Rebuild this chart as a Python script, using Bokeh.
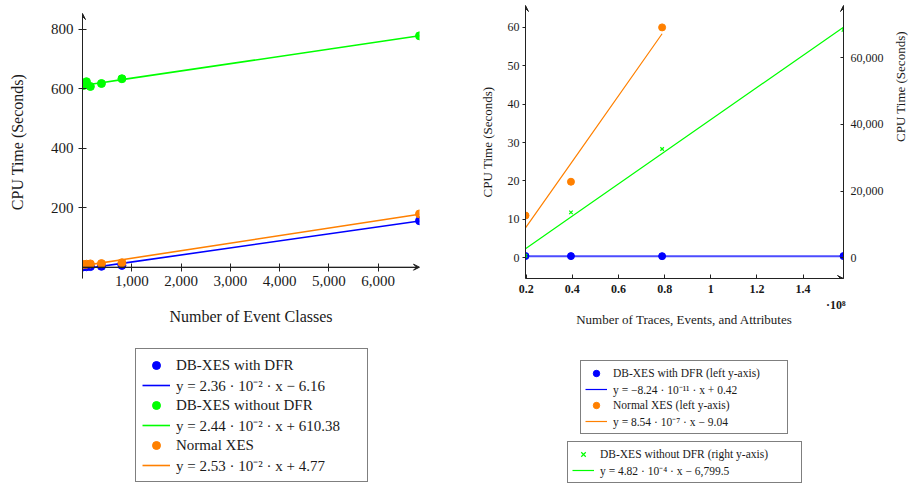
import numpy as np
from bokeh.plotting import figure
from bokeh.models import (Range1d, LinearAxis, FixedTicker, NumeralTickFormatter,
                          CustomJSTickFormatter, Legend, LegendItem, Arrow, VeeHead, Title)
from bokeh.layouts import row, column
from bokeh.embed import file_html
from bokeh.resources import INLINE

FONT = "Liberation Serif"
BLUE = "#0000ff"
GREEN = "#00ff00"
ORANGE = "#ff8000"
AX = "#222222"
TXT = "#1a1a1a"

# ---------------- left chart data ----------------
event_classes = [15, 80, 160, 385, 800, 6840]
with_dfr_left = [1.0, 1.5, 2.0, 3.0, 6.0, 156.0]
without_dfr_left = [610, 623, 607, 617, 633, 777]
normal_xes_left = [9, 10, 11, 12, 15, 179]
fit_left_slope = [2.36e-2, 2.44e-2, 2.53e-2]
fit_left_icept = [-6.16, 610.38, 4.77]
left_names = ["DB-XES with DFR", "DB-XES without DFR", "Normal XES"]
left_eqs = ["y = 2.36 · 10⁻² · x − 6.16",
            "y = 2.44 · 10⁻² · x + 610.38",
            "y = 2.53 · 10⁻² · x + 4.77"]
left_yticks = [200, 400, 600, 800]
left_xticks = [1000, 2000, 3000, 4000, 5000, 6000]

# ---------------- right chart data ----------------
sizes = [1.97e7, 3.94e7, 7.89e7, 1.575e8]
with_dfr_right = [0.45, 0.43, 0.42, 0.44]
normal_xes_right = [11.0, 19.8, 60.0]
without_dfr_right = [600, 13600, 32600, 68300]
fit_right_slope = [-8.24e-11, 8.54e-7, 4.82e-4]
fit_right_icept = [0.42, -9.04, -6799.5]
right_names = ["DB-XES with DFR (left y-axis)", "Normal XES (left y-axis)",
               "DB-XES without DFR (right y-axis)"]
right_eqs = ["y = −8.24 · 10⁻¹¹ · x + 0.42",
             "y = 8.54 · 10⁻⁷ · x − 9.04",
             "y = 4.82 · 10⁻⁴ · x − 6,799.5"]
right_left_yticks = [0, 10, 20, 30, 40, 50, 60]
right_right_yticks = [0, 20000, 40000, 60000]
right_xticks = [2e7, 4e7, 6e7, 8e7, 1e8, 1.2e8, 1.4e8]


def style_axis(ax, size):
    ax.axis_line_color = AX
    ax.major_tick_line_color = AX
    ax.minor_tick_line_color = None
    ax.major_label_text_font = FONT
    ax.major_label_text_font_size = size
    ax.major_label_text_color = TXT
    ax.axis_label_text_font = FONT
    ax.axis_label_text_font_style = "normal"
    ax.axis_label_text_color = TXT


def label_axis(text, size, standoff, ticks=None, tick_size="12px", tick_standoff=0, formatter=None):
    a = LinearAxis(ticker=FixedTicker(ticks=ticks or []), axis_label=text)
    if formatter is not None:
        a.formatter = formatter
    a.axis_line_color = None
    a.major_tick_line_color = None
    a.minor_tick_line_color = None
    a.major_tick_in = 0
    a.major_tick_out = 0
    a.minor_tick_in = 0
    a.minor_tick_out = 0
    a.major_label_standoff = tick_standoff
    a.major_label_text_font = FONT
    a.major_label_text_font_size = tick_size
    a.major_label_text_color = TXT
    a.axis_label_text_font = FONT
    a.axis_label_text_font_style = "normal"
    a.axis_label_text_color = TXT
    a.axis_label_text_font_size = size
    a.axis_label_standoff = standoff
    return a


# both plots in the row share the same top/bottom borders
TOP_B, BOT_B = 5, 57

# ================= left figure =================
L_X0, L_X1 = 0, 6840
L_AXIS_LO, L_AXIS_HI = -38, 852        # extent of the drawn y axis line
L_Y0, L_Y1 = -38, 879                  # plot range
p1 = figure(width=460, height=335, x_range=Range1d(L_X0, L_X1), y_range=Range1d(L_Y0, L_Y1),
            output_backend="svg", toolbar_location=None,
            min_border_left=82, min_border_right=41, min_border_top=TOP_B, min_border_bottom=BOT_B)
p1.outline_line_color = None
p1.grid.visible = False
p1.xaxis.fixed_location = 0
for ax in p1.xaxis + p1.yaxis:
    style_axis(ax, "15px")
    ax.major_tick_in = 4
    ax.major_tick_out = 4
p1.xaxis.ticker = FixedTicker(ticks=left_xticks)
p1.xaxis.formatter = CustomJSTickFormatter(code="return '';")
p1.yaxis.ticker = FixedTicker(ticks=left_yticks)
p1.yaxis.bounds = (L_AXIS_LO, L_AXIS_HI)
p1.yaxis.formatter = NumeralTickFormatter(format="0")
p1.yaxis.axis_label = "CPU Time (Seconds)"
p1.yaxis.axis_label_text_font_size = "16px"
p1.yaxis.major_label_standoff = 5
p1.yaxis.axis_label_standoff = 22
p1.add_layout(label_axis("Number of Event Classes", "16px", 19, ticks=left_xticks,
                         tick_size="15px", tick_standoff=-3,
                         formatter=NumeralTickFormatter(format="0,0")), "below")

xl = np.array(event_classes, dtype=float)
for ys, k, b, col in [(with_dfr_left, fit_left_slope[0], fit_left_icept[0], BLUE),
                      (without_dfr_left, fit_left_slope[1], fit_left_icept[1], GREEN),
                      (normal_xes_left, fit_left_slope[2], fit_left_icept[2], ORANGE)]:
    p1.line(xl, k * xl + b, line_color=col, line_width=1.6)
    p1.scatter(xl, ys, size=8, fill_color=col, line_color=col)

p1.add_layout(Arrow(end=VeeHead(size=6, line_color=AX, fill_color=AX, line_width=1),
                    x_start=L_X0, y_start=0, x_end=L_X1, y_end=0, line_color=AX, line_width=1))
p1.add_layout(Arrow(end=VeeHead(size=6, line_color=AX, fill_color=AX, line_width=1),
                    x_start=L_X0, y_start=L_AXIS_LO, x_end=L_X0, y_end=L_AXIS_HI,
                    line_color=AX, line_width=1))

# ================= right figure =================
R_X0, R_X1 = sizes[0], sizes[-1]
R_Y0, R_Y1 = -5.4, 65.7
K = 1151.0
p2 = figure(width=458, height=335, x_range=Range1d(R_X0, R_X1), y_range=Range1d(R_Y0, R_Y1),
            output_backend="svg", toolbar_location=None,
            min_border_left=65, min_border_right=75, min_border_top=TOP_B, min_border_bottom=BOT_B)
p2.outline_line_color = None
p2.grid.visible = False
p2.extra_y_ranges = {"right": Range1d(R_Y0 * K, R_Y1 * K)}
rax = LinearAxis(y_range_name="right")
p2.add_layout(rax, "right")
for ax in p2.xaxis + p2.yaxis:
    style_axis(ax, "12px")
p2.xaxis.ticker = FixedTicker(ticks=right_xticks)
p2.xaxis.formatter = CustomJSTickFormatter(code="return String(Math.round(tick / 1e7) / 10);")
p2.xaxis.major_label_text_font_style = "bold"
p2.xaxis.major_tick_in = 4
p2.xaxis.major_tick_out = 0
p2.xaxis.major_label_standoff = 6
p2.add_layout(Title(text="·10⁸", align="right", text_font=FONT, text_font_size="12px",
                    text_font_style="bold", text_color=TXT, standoff=0, offset=-2), "below")
p2.add_layout(label_axis("Number of Traces, Events, and Attributes", "13px", 0), "below")

lax = p2.yaxis[0]
lax.ticker = FixedTicker(ticks=right_left_yticks)
lax.major_tick_in = 0
lax.major_tick_out = 3
lax.major_label_standoff = 3
lax.axis_label = "CPU Time (Seconds)"
lax.axis_label_text_font_size = "13px"
lax.axis_label_standoff = 10

rax.ticker = FixedTicker(ticks=right_right_yticks)
rax.formatter = NumeralTickFormatter(format="0,0")
rax.major_tick_in = 3
rax.major_tick_out = 0
rax.major_label_standoff = 7
rax.axis_label = "CPU Time (Seconds)"
rax.axis_label_text_font_size = "13px"
rax.axis_label_standoff = 14
if "axis_label_orientation" in rax.properties():
    rax.axis_label_orientation = float(np.pi / 2)

xr = np.array(sizes, dtype=float)
xo = np.array(sizes[:len(normal_xes_right)], dtype=float)
p2.line(xo, fit_right_slope[1] * xo + fit_right_icept[1], line_color=ORANGE, line_width=1.2)
p2.scatter(xo, normal_xes_right, size=7, fill_color=ORANGE, line_color=ORANGE)
p2.line(xr, fit_right_slope[2] * xr + fit_right_icept[2], line_color=GREEN, line_width=1.2,
        y_range_name="right")
p2.line(xr, fit_right_slope[0] * xr + fit_right_icept[0], line_color=BLUE, line_alpha=0.7,
        line_width=2)
p2.scatter(xr, with_dfr_right, size=7, fill_color=BLUE, line_color=BLUE)
p2.scatter(xr, without_dfr_right, marker="x", size=5, line_color=GREEN, line_width=1.2,
           y_range_name="right")

for xs_, ys_, xe_, ye_ in [(R_X0, R_Y0, R_X1, R_Y0), (R_X0, R_Y0, R_X0, R_Y1), (R_X1, R_Y0, R_X1, R_Y1)]:
    p2.add_layout(Arrow(end=VeeHead(size=6, line_color=AX, fill_color=AX, line_width=1),
                        x_start=xs_, y_start=ys_, x_end=xe_, y_end=ye_, line_color=AX, line_width=1))


# ================= legend figures =================
NAN2 = [np.nan, np.nan]


def legend_fig(w, h):
    f = figure(width=w, height=h, x_range=Range1d(0, 1), y_range=Range1d(0, 1),
               x_axis_location=None, y_axis_location=None, output_backend="svg",
               toolbar_location=None, min_border=0)
    f.outline_line_color = None
    f.grid.visible = False
    return f


def style_legend(lg, fs, row_h, gw, pad, lw):
    lg.label_text_font = FONT
    lg.label_text_font_size = fs
    lg.label_text_color = TXT
    lg.label_height = row_h
    lg.glyph_height = row_h
    lg.glyph_width = gw
    lg.label_standoff = 6
    lg.label_width = lw
    lg.padding = pad
    lg.spacing = 0
    lg.margin = 0
    lg.border_line_color = "black"
    lg.border_line_width = 1
    lg.background_fill_color = "white"
    lg.background_fill_alpha = 1


l1 = legend_fig(460, 152)
items1 = []
for name, eq, col in zip(left_names, left_eqs, [BLUE, GREEN, ORANGE]):
    r1 = l1.scatter(NAN2, NAN2, size=8, fill_color=col, line_color=col)
    r2 = l1.line(NAN2, NAN2, line_color=col, line_width=1.6)
    items1.append(LegendItem(label=name, renderers=[r1]))
    items1.append(LegendItem(label=eq, renderers=[r2]))
leg1 = Legend(items=items1, location=(135, 5))
style_legend(leg1, "15px", 20, 28, 6, 185)
l1.add_layout(leg1)

l2 = legend_fig(458, 152)
items2 = []
for name, eq, col in [(right_names[0], right_eqs[0], BLUE), (right_names[1], right_eqs[1], ORANGE)]:
    r1 = l2.scatter(NAN2, NAN2, size=6, fill_color=col, line_color=col)
    r2 = l2.line(NAN2, NAN2, line_color=col, line_width=1.2)
    items2.append(LegendItem(label=name, renderers=[r1]))
    items2.append(LegendItem(label=eq, renderers=[r2]))
leg2 = Legend(items=items2, location=(120, 53))
style_legend(leg2, "11.5px", 16, 22, 4, 170)
l2.add_layout(leg2)

g1 = l2.scatter(NAN2, NAN2, marker="x", size=5, line_color=GREEN, line_width=1.2)
g2 = l2.line(NAN2, NAN2, line_color=GREEN, line_width=1.2)
leg3 = Legend(items=[LegendItem(label=right_names[2], renderers=[g1]),
                     LegendItem(label=right_eqs[2], renderers=[g2])], location=(107, 4))
style_legend(leg3, "11.5px", 16, 22, 4, 197)
l2.add_layout(leg3)

layout = column(row(p1, p2), row(l1, l2))
open("out.html", "w").write(file_html(layout, INLINE))
